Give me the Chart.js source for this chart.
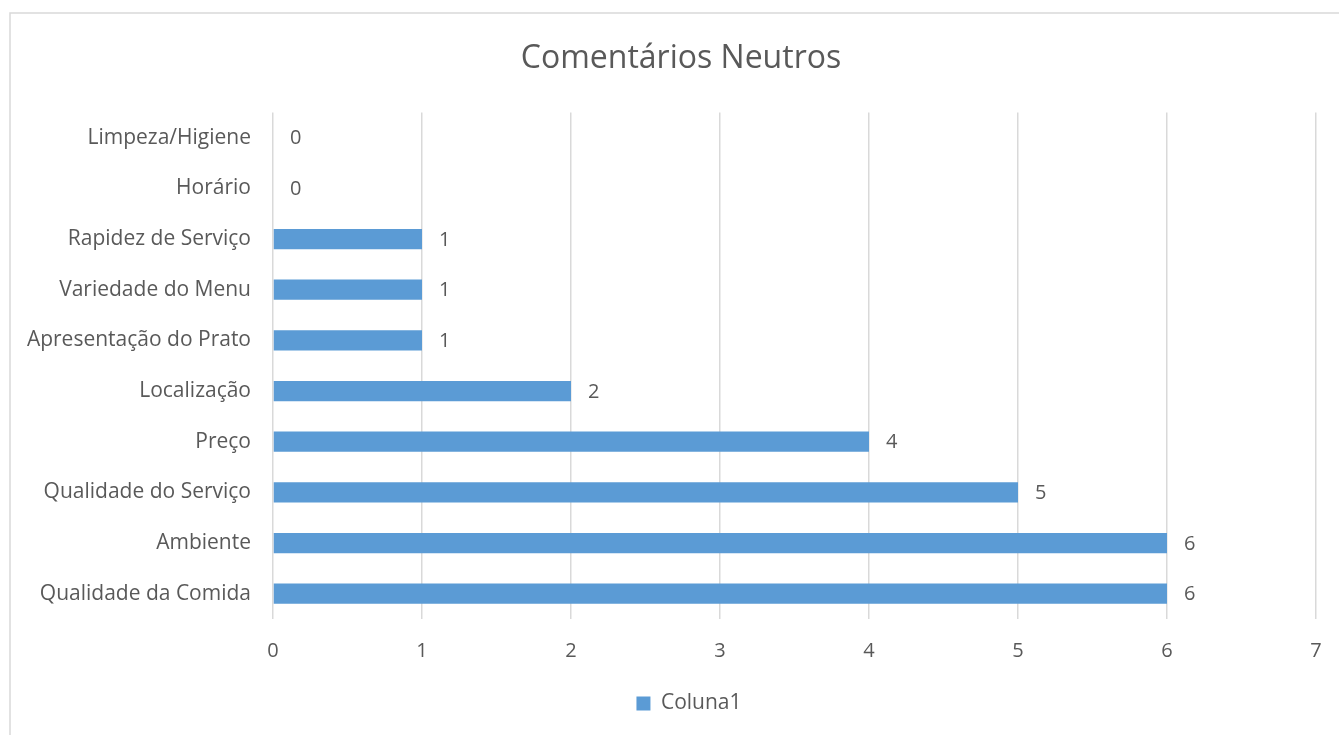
<!DOCTYPE html>
<html lang="pt">
<head>
<meta charset="utf-8">
<title>Comentários Neutros</title>
<script src="https://cdn.jsdelivr.net/npm/chart.js@4/dist/chart.umd.min.js"></script>
<style>
  html, body { margin: 0; padding: 0; background: #fff; }
  #wrap { width: 1339px; height: 735px; position: relative; }
</style>
</head>
<body>
<div id="wrap"><canvas id="barChart"></canvas></div>
<script>
const categories = [
    'Limpeza/Higiene',
    'Horário',
    'Rapidez de Serviço',
    'Variedade do Menu',
    'Apresentação do Prato',
    'Localização',
    'Preço',
    'Qualidade do Serviço',
    'Ambiente',
    'Qualidade da Comida'
];
const coluna1 = [0, 0, 1, 1, 1, 2, 4, 5, 6, 6];
const seriesName = 'Coluna1';
const chartTitle = 'Comentários Neutros';

const FONT = '"Open Sans", sans-serif';
const TEXT_COLOR = '#595959';
const BAR_COLOR = '#5B9BD5';
const GRID_COLOR = '#d9d9d9';

// moldura cinzenta à volta do gráfico
const frame = {
    id: 'frame',
    beforeDraw(chart) {
        const ctx = chart.ctx;
        ctx.save();
        ctx.strokeStyle = GRID_COLOR;
        ctx.lineWidth = 1.5;
        ctx.strokeRect(10, 13, chart.width + 20, chart.height + 20);
        ctx.restore();
    }
};

// a moldura é mais larga que o canvas: centra título e legenda nela
const centerOnFrame = {
    id: 'centerOnFrame',
    afterLayout(chart) {
        const shift = (box, dx) => { box.left += dx; box.right += dx; };
        shift(chart.titleBlock, 23);
        shift(chart.legend, 31);
    }
};

// rótulos de valor à direita de cada barra
const valueLabels = {
    id: 'valueLabels',
    afterDatasetsDraw(chart) {
        const ctx = chart.ctx;
        const meta = chart.getDatasetMeta(0);
        ctx.save();
        ctx.font = '20px ' + FONT;
        ctx.fillStyle = TEXT_COLOR;
        ctx.textAlign = 'left';
        ctx.textBaseline = 'middle';
        meta.data.forEach((bar, i) => {
            ctx.fillText(String(coluna1[i]), bar.x + 17, bar.y + 1);
        });
        ctx.restore();
    }
};

new Chart(document.getElementById('barChart'), {
    type: 'bar',
    data: {
        labels: categories,
        datasets: [{
            label: seriesName,
            data: coluna1,
            backgroundColor: BAR_COLOR,
            borderWidth: 0,
            barPercentage: 0.4,
            categoryPercentage: 1
        }]
    },
    options: {
        indexAxis: 'y',
        responsive: true,
        maintainAspectRatio: false,
        animation: false,
        layout: { padding: { top: 12, right: 23, bottom: 11, left: 0 } },
        scales: {
            x: {
                min: 0,
                max: 7,
                ticks: {
                    stepSize: 1,
                    color: TEXT_COLOR,
                    font: { family: FONT, size: 20 },
                    padding: 20
                },
                grid: { color: GRID_COLOR, lineWidth: 1.5, drawTicks: false },
                border: { display: false },
                afterFit(scale) {
                    scale.height = 62;
                    scale.paddingLeft = 0;
                    scale.paddingRight = 0;
                }
            },
            y: {
                ticks: {
                    color: TEXT_COLOR,
                    font: { family: FONT, size: 21 },
                    padding: 22
                },
                grid: { display: false, drawTicks: false },
                border: { display: false },
                afterFit(scale) { scale.width = 273; }
            }
        },
        plugins: {
            title: {
                display: true,
                text: chartTitle,
                color: TEXT_COLOR,
                font: { family: FONT, size: 32, weight: 'normal' },
                padding: { top: 28, bottom: 34 }
            },
            legend: {
                position: 'bottom',
                labels: {
                    color: TEXT_COLOR,
                    font: { family: FONT, size: 21 },
                    boxWidth: 14,
                    boxHeight: 14,
                    padding: 12
                }
            },
            tooltip: { enabled: false }
        }
    },
    plugins: [frame, centerOnFrame, valueLabels]
});
</script>
</body>
</html>
